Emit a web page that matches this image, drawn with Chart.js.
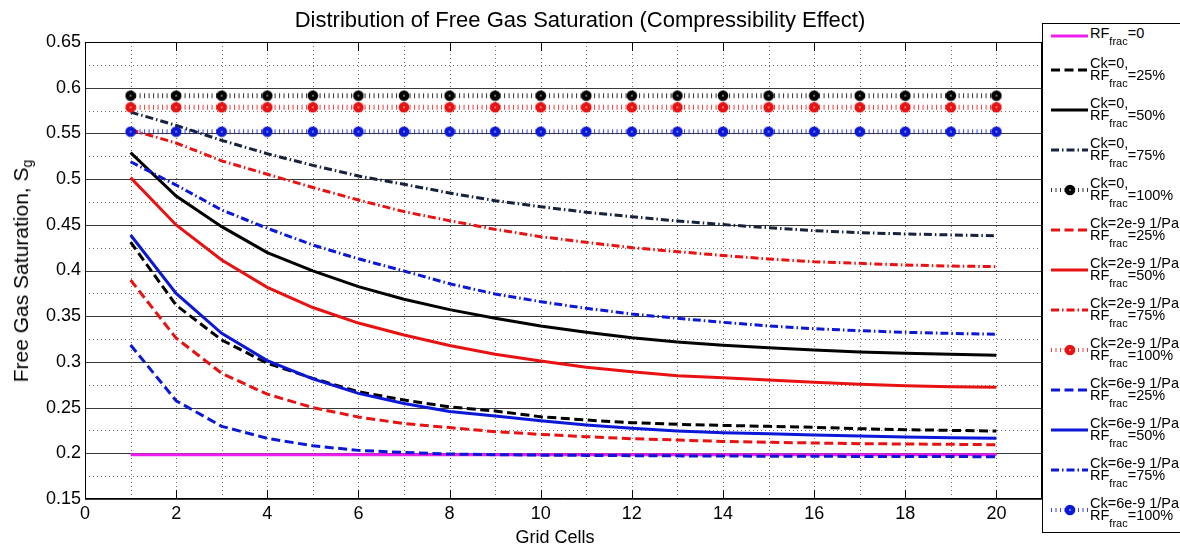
<!DOCTYPE html>
<html>
<head>
<meta charset="utf-8">
<script src="https://cdn.jsdelivr.net/npm/chart.js@4.4.0/dist/chart.umd.min.js"></script>
<style>
html,body{margin:0;padding:0;background:#fff;width:1180px;height:546px;overflow:hidden;font-family:"Liberation Sans",Arial,sans-serif;}
#wrap{position:relative;width:1180px;height:546px;}
#c{position:absolute;left:0;top:0;}
.txt{position:absolute;white-space:nowrap;color:#000;}
#title{left:580px;top:20px;transform:translate(-50%,-50%);font-size:22px;}
#xlab{left:555px;top:537px;transform:translate(-50%,-50%);font-size:18px;}
#ylab{left:22px;top:271px;transform:translate(-50%,-50%) rotate(-90deg);font-size:21px;}
#ylab sub{font-size:14px;vertical-align:-4px;}
#legend{position:absolute;left:1042px;top:23px;width:150px;height:510px;border:1px solid #000;background:#fff;box-sizing:border-box;}
.ls{position:absolute;left:7px;}
.lt{position:absolute;left:47px;font-size:14.5px;line-height:12px;white-space:nowrap;color:#000;}
.sb{font-size:11px;position:relative;top:7px;}
</style>
</head>
<body>
<div id="wrap">
  <canvas id="c" width="1180" height="546"></canvas>
  <div class="txt" id="title">Distribution of Free Gas Saturation (Compressibility Effect)</div>
  <div class="txt" id="xlab">Grid Cells</div>
  <div class="txt" id="ylab">Free Gas Saturation, S<sub>g</sub></div>
  <div id="legend"></div>
</div>
<script>
// ---- data ----
const gridCells = [1,2,3,4,5,6,7,8,9,10,11,12,13,14,15,16,17,18,19,20];
const xTicks = [0,2,4,6,8,10,12,14,16,18,20];
const xTickLabels = ['0','2','4','6','8','10','12','14','16','18','20'];
const yTicks = [0.15,0.2,0.25,0.3,0.35,0.4,0.45,0.5,0.55,0.6,0.65];
const yTickLabels = ['0.15','0.2','0.25','0.3','0.35','0.4','0.45','0.5','0.55','0.6','0.65'];
const yMinorGrid = [0.175,0.225,0.275,0.325,0.375,0.425,0.475,0.525,0.575,0.625];

const sgRF0      = [0.1985,0.1985,0.1985,0.1985,0.1985,0.1985,0.1985,0.1985,0.1985,0.1985,0.1985,0.1985,0.1985,0.1985,0.1985,0.1985,0.1985,0.1985,0.1985,0.1985];
const sgCk0_25   = [0.431,0.362,0.324,0.2985,0.282,0.2674,0.2583,0.2507,0.2463,0.240,0.2364,0.2335,0.2317,0.2305,0.2295,0.2284,0.2269,0.2258,0.2251,0.2244];
const sgCk0_50   = [0.529,0.4815,0.448,0.4195,0.3995,0.3823,0.3685,0.3572,0.3477,0.3393,0.3324,0.3265,0.3218,0.3182,0.3156,0.313,0.3108,0.3094,0.3083,0.3072];
const sgCk0_75   = [0.5733,0.5588,0.5424,0.5278,0.515,0.5034,0.4943,0.4848,0.4764,0.4698,0.4637,0.4589,0.4542,0.4502,0.4469,0.4436,0.4414,0.44,0.4389,0.4381];
const sgCk0_100  = [0.5913,0.5913,0.5913,0.5913,0.5913,0.5913,0.5913,0.5913,0.5913,0.5913,0.5913,0.5913,0.5913,0.5913,0.5913,0.5913,0.5913,0.5913,0.5913,0.5913];
const sgCk2_25   = [0.3896,0.326,0.2875,0.2647,0.25,0.2397,0.2325,0.2281,0.2236,0.2207,0.2182,0.216,0.2145,0.213,0.212,0.2113,0.2105,0.2102,0.2098,0.2094];
const sgCk2_50   = [0.5016,0.4498,0.4115,0.3815,0.3595,0.3425,0.3294,0.3179,0.3083,0.301,0.2941,0.2893,0.2849,0.2827,0.2802,0.2777,0.2755,0.274,0.2729,0.2722];
const sgCk2_75   = [0.554,0.5395,0.520,0.5053,0.4908,0.4771,0.4644,0.4545,0.445,0.437,0.4308,0.425,0.4206,0.4164,0.4126,0.4096,0.4078,0.406,0.4049,0.4042];
const sgCk2_100  = [0.5786,0.5786,0.5786,0.5786,0.5786,0.5786,0.5786,0.5786,0.5786,0.5786,0.5786,0.5786,0.5786,0.5786,0.5786,0.5786,0.5786,0.5786,0.5786,0.5786];
const sgCk6_25   = [0.3185,0.2575,0.2295,0.2164,0.2082,0.2032,0.2009,0.1992,0.1985,0.198,0.1977,0.1974,0.1972,0.197,0.1968,0.1967,0.1966,0.1965,0.1964,0.1963];
const sgCk6_50   = [0.4388,0.375,0.3313,0.3015,0.2815,0.2656,0.2545,0.2458,0.2408,0.2357,0.231,0.2273,0.2244,0.2225,0.2215,0.22,0.2189,0.2178,0.2171,0.2164];
const sgCk6_75   = [0.519,0.4935,0.4662,0.4462,0.4279,0.4128,0.3995,0.3855,0.3743,0.3659,0.3586,0.3524,0.3477,0.3433,0.3393,0.3363,0.3341,0.3324,0.3312,0.3302];
const sgCk6_100  = [0.5519,0.5519,0.5519,0.5519,0.5519,0.5519,0.5519,0.5519,0.5519,0.5519,0.5519,0.5519,0.5519,0.5519,0.5519,0.5519,0.5519,0.5519,0.5519,0.5519];

const seriesCk = ['', 'Ck=0,','Ck=0,','Ck=0,','Ck=0,',
  'Ck=2e-9 1/Pa','Ck=2e-9 1/Pa','Ck=2e-9 1/Pa','Ck=2e-9 1/Pa',
  'Ck=6e-9 1/Pa','Ck=6e-9 1/Pa','Ck=6e-9 1/Pa','Ck=6e-9 1/Pa'];
const seriesRF = ['=0','=25%','=50%','=75%','=100%','=25%','=50%','=75%','=100%','=25%','=50%','=75%','=100%'];

// ---- styles ----
const FONT = '"Liberation Sans", Arial, sans-serif';
const MAG = '#ee1eee', BLK = '#000000', BLKDD = '#17233a', RED = '#e81212', BLU = '#0c18d8';
const STY = {
  solid:   {borderWidth:3, borderDash:[]},
  dash:    {borderWidth:3, borderDash:[9,4.5]},
  dashdot: {borderWidth:3, borderDash:[8,3,1.5,3]},
  dot:     {borderWidth:5, borderDash:[1,3.5]}
};
function markerImg(color){
  const c=document.createElement('canvas'); c.width=12; c.height=12;
  const g=c.getContext('2d'); g.fillStyle=color; g.beginPath(); g.arc(6,6,5.3,0,Math.PI*2); g.fill();
  g.fillStyle='rgba(255,255,255,0.75)'; g.fillRect(5.25,5.25,1.5,1.5);
  return c;
}
const specs = [
  [sgRF0, MAG, 'solid'],
  [sgCk0_25, BLK, 'dash'], [sgCk0_50, BLK, 'solid'], [sgCk0_75, BLKDD, 'dashdot'], [sgCk0_100, BLK, 'dot'],
  [sgCk2_25, RED, 'dash'], [sgCk2_50, RED, 'solid'], [sgCk2_75, RED, 'dashdot'], [sgCk2_100, RED, 'dot'],
  [sgCk6_25, BLU, 'dash'], [sgCk6_50, BLU, 'solid'], [sgCk6_75, BLU, 'dashdot'], [sgCk6_100, BLU, 'dot']
];
const N = specs.length;
const datasets = specs.map(([vals, color, sty], i) => {
  const s = STY[sty];
  const isDot = sty === 'dot';
  return {
    label: (seriesCk[i] + ' RF' + seriesRF[i]).trim(),
    data: vals.map((v, k) => ({x: gridCells[k], y: v})),
    borderColor: isDot ? color + 'cc' : color,
    backgroundColor: color,
    borderWidth: s.borderWidth,
    borderDash: s.borderDash,
    borderCapStyle: 'butt',
    tension: 0,
    fill: false,
    pointRadius: isDot ? 5.5 : 0,
    pointStyle: isDot ? markerImg(color) : 'circle',
    pointHoverRadius: 0,
    order: N - i,
    _sty: sty, _color: color
  };
});

// ---- plugins: MATLAB-like grid, frame and inward ticks ----
const gridPlugin = {
  id: 'matlabGrid',
  beforeDatasetsDraw(chart) {
    const {ctx, chartArea: a, scales: {x, y}} = chart;
    ctx.save();
    ctx.lineWidth = 1;
    ctx.strokeStyle = '#6a6a6a';
    ctx.setLineDash([1, 3]);
    gridCells.forEach(v => {
      const px = Math.round(x.getPixelForValue(v)) + 0.5;
      ctx.beginPath(); ctx.moveTo(px, a.top); ctx.lineTo(px, a.bottom); ctx.stroke();
    });
    yMinorGrid.forEach(v => {
      const py = Math.round(y.getPixelForValue(v)) + 0.5;
      ctx.beginPath(); ctx.moveTo(a.left, py); ctx.lineTo(a.right, py); ctx.stroke();
    });
    ctx.setLineDash([]);
    ctx.strokeStyle = '#3a3a3a';
    yTicks.forEach(v => {
      const py = Math.round(y.getPixelForValue(v)) + 0.5;
      ctx.beginPath(); ctx.moveTo(a.left, py); ctx.lineTo(a.right, py); ctx.stroke();
    });
    ctx.restore();
  },
  afterDatasetsDraw(chart) {
    const {ctx, chartArea: a, scales: {x}} = chart;
    ctx.save();
    ctx.strokeStyle = '#000';
    ctx.lineWidth = 1;
    ctx.setLineDash([]);
    xTicks.forEach(v => {
      const px = Math.round(x.getPixelForValue(v)) + 0.5;
      ctx.beginPath(); ctx.moveTo(px, a.bottom); ctx.lineTo(px, a.bottom - 9); ctx.stroke();
      ctx.beginPath(); ctx.moveTo(px, a.top); ctx.lineTo(px, a.top + 9); ctx.stroke();
    });
    ctx.strokeRect(Math.round(a.left) + 0.5, Math.round(a.top) + 0.5,
      Math.round(a.right - a.left) - 1, Math.round(a.bottom - a.top) - 1);
    ctx.restore();
  }
};

Chart.defaults.font.family = FONT;
Chart.defaults.color = '#000';

const chart = new Chart(document.getElementById('c'), {
  type: 'line',
  data: {datasets},
  options: {
    responsive: false,
    animation: false,
    devicePixelRatio: 1,
    layout: {padding: {left: 0, right: 138, top: 42, bottom: 0}},
    plugins: {legend: {display: false}, tooltip: {enabled: false}, title: {display: false}},
    scales: {
      x: {
        type: 'linear', min: 0, max: 21,
        afterBuildTicks: s => { s.ticks = xTicks.map(v => ({value: v})); },
        afterFit: s => { s.height = 47; },
        grid: {display: false, drawTicks: false},
        border: {display: false},
        ticks: {padding: 4, maxRotation: 0, autoSkip: false, color: '#000',
                font: {family: FONT, size: 18}, callback: (v, i) => xTickLabels[i]}
      },
      y: {
        type: 'linear', min: 0.15, max: 0.65,
        afterBuildTicks: s => { s.ticks = yTicks.map(v => ({value: v})); },
        afterFit: s => { s.width = 85; },
        grid: {display: false, drawTicks: false},
        border: {display: false},
        ticks: {padding: 4, autoSkip: false, color: '#000',
                font: {family: FONT, size: 18}, callback: (v, i) => yTickLabels[i]}
      }
    }
  },
  plugins: [gridPlugin]
});

// ---- HTML legend built from the datasets ----
const legendEl = document.getElementById('legend');
chart.data.datasets.forEach((ds, i) => {
  const lineY = i === 0 ? 36 : 70 + 40 * (i - 1);
  const relY = lineY - 24;
  const cv = document.createElement('canvas');
  cv.width = 40; cv.height = 14; cv.className = 'ls';
  cv.style.top = (relY - 7) + 'px';
  const g = cv.getContext('2d');
  g.strokeStyle = ds.borderColor; g.lineWidth = ds._sty === 'dot' ? 4 : ds.borderWidth;
  g.setLineDash(ds.borderDash); g.lineCap = 'butt';
  g.beginPath(); g.moveTo(1, 7); g.lineTo(38, 7); g.stroke();
  if (ds._sty === 'dot') g.drawImage(ds.pointStyle, 20 - 6, 7 - 6);
  legendEl.appendChild(cv);
  const t = document.createElement('div');
  t.className = 'lt';
  if (i === 0) {
    t.style.top = (relY - 9) + 'px';
    t.innerHTML = 'RF<span class="sb">frac</span>' + seriesRF[i];
  } else {
    t.style.top = (relY - 13) + 'px';
    t.innerHTML = seriesCk[i] + '<br>RF<span class="sb">frac</span>' + seriesRF[i];
  }
  legendEl.appendChild(t);
});
</script>
</body>
</html>
